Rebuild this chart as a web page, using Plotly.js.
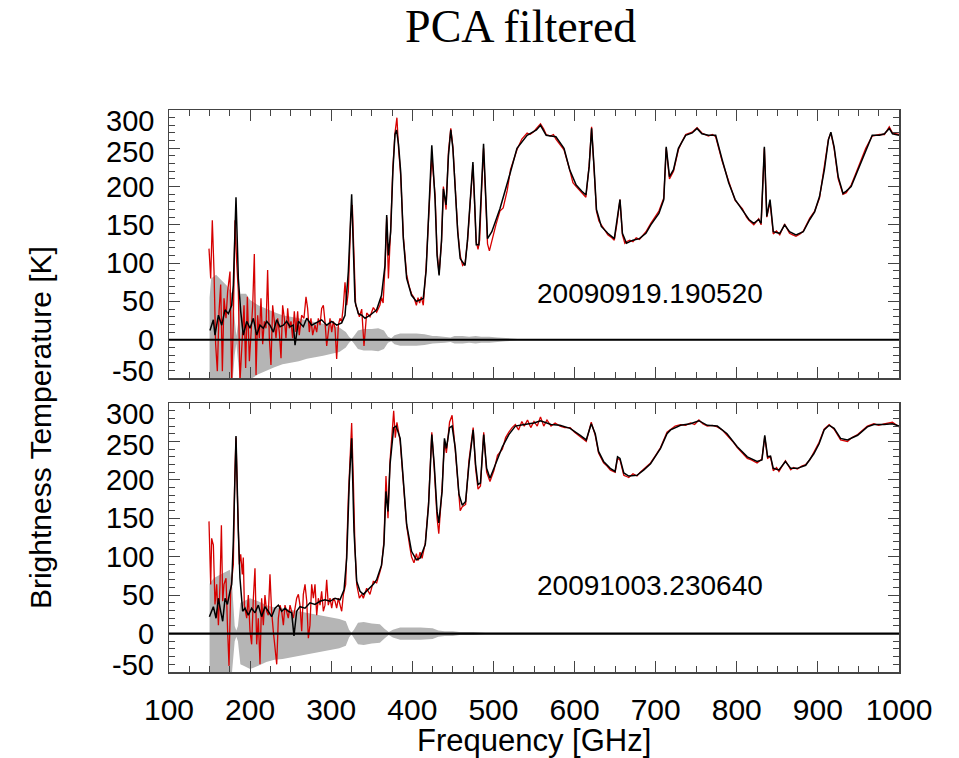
<!DOCTYPE html>
<html><head><meta charset="utf-8">
<script src="https://cdn.plot.ly/plotly-3.0.1.min.js"></script>
<style>body{margin:0;background:#fff}#chart{width:959px;height:758px}</style>
</head><body><div id="chart"></div>
<script>
// ---------- DATA ----------
const titleText = "PCA filtered";
const xTitle = "Frequency [GHz]";
const yTitle = "Brightness Temperature [K]";
const labelTop = "20090919.190520";
const labelBottom = "20091003.230640";
const xTickVals = [100,200,300,400,500,600,700,800,900,1000];
const xTickText = ["100","200","300","400","500","600","700","800","900","1000"];
const yTickVals = [-50,0,50,100,150,200,250,300];
const yTickText = ["-50","0","50","100","150","200","250","300"];

// Top panel: PCA filtered spectrum (black)
const topBlackF = [150.5,154.7,156.7,160.9,165,169,173.2,177.3,179.3,182.6,185.5,188.4,191.6,195.8,199.9,204,208.1,212.2,216.3,220.4,224.5,228.6,232.8,236.9,241,245.1,249.2,253.3,255.4,259.5,265.6,269.8,275.9,282.1,288.2,294.4,300.6,306.7,312.9,317,321.1,325.2,329.3,333.4,337.6,341.7,347.8,356,362,366.3,368.4,370.5,373.3,376,378.6,380.5,383,385.6,388.9,393,399,405,409,413.5,417,420,424,428,430.5,433,436,438.3,441.6,444.5,447.4,450,452.7,456,459,465,468,471.4,474.7,476.8,478.8,482,485.5,487.8,490,492.7,498,508,521,529,541.5,553,558,565,577,587,594,602,609,614,618,621,624,627,633,641,649,652,656,659,664,672,680,688,694,704,710,713,717,722,728,737,745,751,757,765,774,782,790,798,807,815,821,827,830,834,837,841,845,853,859,865,873,882,890,896,902,908,913,916,920,925,931,935,941,951,959,967,976,982,988,992,1000];
const topBlackT = [12,26,6,32,19,39,34,45,71,186,80,37,6,24,15,28,6,19,15,24,19,10,26,17,19,24,17,19,-7,24,17,28,19,22,26,19,24,19,22,32,89,190,50,34,32,28,32,39,58,97,163,110,141,220,268,274,255,220,132,80,58,50,52,54,90,163,254,184,110,84,130,197,176,240,274,250,197,140,106,97,130,176,232,180,124,124,200,256,200,132,141,171,219,250,267,274,280,267,265,250,222,202,194,189,226,276,226,170,148,139,132,152,183,139,126,130,132,139,150,165,183,252,213,222,250,267,270,276,269,267,267,235,205,183,170,157,152,157,152,252,161,183,141,139,150,141,137,141,157,167,187,222,261,271,252,213,191,194,200,226,248,267,267,269,276,269,267];

// Top panel: raw spectrum (red)
const topRedF = [149.3,151.4,153.4,155.5,157.5,159.6,161.7,163.7,165.8,167.8,170.3,172.3,175.2,177.3,179.3,181.4,183.4,185.5,187.5,189.6,192.5,194.5,196.6,199.1,201.1,203.2,205.2,207.3,209.3,211.4,213.4,215.5,217.5,219.6,221.6,223.7,225.7,227.8,229.9,231.9,234,236,238.1,240.1,242.2,244.2,246.3,248.3,250.4,252.4,254.5,256.5,258.6,260.6,263.5,266.4,268.9,270.9,273,275,277.1,280,282.1,284.1,286.2,288.2,290.3,292.3,294.4,296.4,298.5,300.6,302.6,304.7,306.7,308.8,310.8,312.9,315,317,319.1,321.1,324,326,328.1,330.1,332.2,334.7,337.6,340.4,343.7,347.8,351.9,356,360,362,364,366.3,368.4,370.5,373.3,376,378.6,381,383,385.6,388.9,393,396,399,402,405,407,409,411,413.5,417,420,424,428,430.5,433,436,438.3,441.6,444.5,447.4,450,452.7,456,459,462,465,468,471.4,474.7,476.8,478.8,481,483,485.5,487.8,490,492.7,495,498,503,508,512,517,521,525,529,535,541.5,545,550,553,558,562,565,570,574,577,582,587,594,598,602,606,609,614,618,621,624,627,630,633,637,641,645,649,652,656,659,662,664,668,672,676,680,684,688,694,699,704,710,713,717,722,728,732,737,745,751,757,765,770,774,782,790,798,807,812,815,821,827,830,834,837,841,845,849,853,859,865,869,873,878,882,890,896,902,908,913,916,920,925,931,935,941,946,951,959,967,976,982,988,992,1000];
const topRedT = [119,80,156,89,-6,-41,37,72,-41,54,28,63,89,-55,24,156,102,63,-55,-16,45,-37,56,-28,6,45,112,-46,32,2,54,-6,24,15,91,2,-33,45,24,2,28,10,-24,45,28,2,41,15,24,2,37,10,37,6,32,28,56,41,10,28,6,19,10,28,19,41,45,24,-8,10,28,10,24,15,-25,19,28,24,45,75,45,63,158,176,98,45,40,30,40,-8,35,30,42,36,45,55,48,95,160,80,145,225,270,290,250,215,135,85,70,60,55,45,55,48,56,45,95,160,240,190,115,86,128,200,170,245,276,252,195,142,110,97,100,128,180,228,176,128,118,130,198,250,195,125,116,130,150,168,172,195,222,235,248,262,270,268,272,276,282,275,268,266,268,262,255,248,222,205,200,195,192,186,228,278,224,168,155,150,142,137,134,130,150,183,137,126,128,130,128,133,131,136,141,152,160,168,185,250,210,220,248,258,268,271,277,270,266,268,265,233,207,182,171,160,156,150,158,150,250,160,180,138,142,137,151,139,137,135,138,142,159,168,185,224,262,270,250,210,190,192,202,215,228,250,266,268,268,278,270,268];

// Top panel: noise level (grey band, +/-)
const topNoiseF = [150,152,158,165,172,178,181,183,185,188,195,200,210,220,230,240,250,260,270,280,290,300,310,318,322,325,328,333,340,350,358,365,370,374,378,385,395,405,415,425,430,440,447,452,462,470,478,485,495,505,515,530,600,1000];
const topNoiseA = [55,80,85,78,70,60,20,5,20,60,60,52,45,40,36,32,30,28,25,23,21,19,16,10,4,1,5,12,14,14,15,12,4,2,6,8,8,8,7,5,5,4,3,5,5,4,5,4,4,3,2,1,0.5,0.5];

// Bottom panel: PCA filtered spectrum (black)
const botBlackF = [149.8,154.7,158,160.9,163.7,166.2,169.1,172,175.2,177.3,179.3,182.6,185.5,187.5,190.8,193.7,197.8,201.9,206,210.1,214.2,218.3,222.4,226.5,230.7,234.8,238.9,243,247.1,251.2,254.1,257.4,261.5,267.7,273.8,280,286.2,292.3,298.5,304.7,310.8,315.8,319.1,322.3,325.2,328.1,331.4,335.5,339.6,343.7,347.8,351.9,356,362,365,367.5,370,372.5,377,380,385,389,393,399,405,409.5,416,420,424,427,430.5,432.6,436.7,439.6,442,445.9,449,453,457.5,461.6,465.7,469.8,475,478,481,484,488,491.6,495.7,500.6,505,511,519,527,538,550,558,571,582,594.5,607,614.4,620.6,625.5,629.6,635.8,644,650,653,656,660.7,666.8,677,685.5,693.7,706,714,718.4,730.7,743,753.3,763.6,776,788,800.6,813,825,831,834.5,838,841.6,845,852,860,866.5,874.7,885,895,901.5,907.7,913.9,920,928,936.5,949,961,969,981.6,991.9,1000];
const botBlackT = [22,35,20,46,29,16,46,38,55,64,120,257,133,72,29,33,24,33,27,37,22,35,29,22,33,37,29,33,29,27,-3,29,35,33,40,38,42,44,42,46,44,57,98,198,254,133,68,55,51,55,59,64,70,89,116,185,159,220,268,270,254,198,142,107,96,98,116,167,259,220,159,144,185,254,241,268,270,241,181,167,172,220,265,220,194,196,259,215,202,215,228,243,259,270,272,274,277,272,271,267,258,252,273,260,237,224,215,211,230,228,209,205,206,213,221,241,260,265,271,273,277,271,270,260,243,230,224,226,258,230,231,215,213,224,215,215,219,234,247,265,271,267,254,252,258,269,272,272,273,270];

// Bottom panel: raw spectrum (red)
const botRedF = [149.3,151.4,152.6,154.7,156.7,158.8,160.9,162.9,164.6,166.2,167.8,170.3,172.3,174,176,179.3,181,182.6,184.3,186.7,188.4,190.4,191.6,192.9,195.8,197.8,199.9,201.9,204,206,208.1,210.1,212.2,214.2,216.3,218.3,220.4,222.4,224.5,226.5,228.6,230.7,232.8,234.8,236.9,238.9,241,243,245.1,247.1,249.2,251.2,253.3,255.4,257.4,259.5,261.5,263.6,265.6,267.7,269.8,271.8,273.8,275.9,278,280,282.1,284.1,286.2,288.2,290.3,292.3,294.4,296.4,298.5,300.6,302.6,304.7,306.7,308.8,310.8,312.9,315,317.8,321.1,323.2,325.2,327.3,329.3,331.4,334.7,337.6,339.6,343.7,347.8,351.9,356,360,362,365,367.5,370,372.5,375,377,379,381,385,389,393,397,399,402,405,407,409.5,412,416,420,424,427,430.5,432.6,436.7,439.6,442,445.9,449,453,457.5,459,461.6,465.7,469.8,475,478,481,484,488,491.6,495.7,500.6,505,511,515,519,523,527,531,535,538,542,546,550,554,558,562,566,571,576,582,588,594.5,600,607,614.4,620.6,625.5,629.6,635.8,640,644,650,653,656,660.7,663,666.8,672,677,681,685.5,690,693.7,700,706,714,718.4,724,730.7,737,743,748,753.3,758,763.6,770,776,782,788,795,800.6,806,813,818,825,831,834.5,838,841.6,845,849,852,856,860,866.5,870,874.7,880,885,890,895,901.5,907.7,913.9,920,924,928,936.5,942,949,955,961,969,975,981.6,987,991.9,996,1000];
const botRedT = [146,64,124,115,38,64,11,64,141,42,64,72,3,-42,55,90,200,255,180,90,103,77,99,37,20,50,3,-14,46,85,-14,20,-40,46,11,50,29,24,77,29,3,-23,-40,20,37,29,11,37,29,20,37,29,20,33,46,51,37,3,51,64,42,-6,11,64,46,64,24,46,37,55,29,37,70,37,46,33,46,42,33,46,37,29,51,64,177,230,274,198,111,64,46,51,46,59,51,68,66,80,88,120,205,150,225,260,290,255,275,250,195,140,112,100,92,104,95,106,98,118,170,262,215,150,130,190,250,235,275,284,238,176,160,165,168,225,268,215,188,192,262,210,198,212,232,240,255,262,268,272,265,276,270,278,268,276,270,282,270,278,270,274,270,268,268,262,256,250,275,258,235,222,218,213,210,228,226,206,205,203,208,205,210,214,218,222,232,242,262,266,270,272,271,274,272,278,273,270,271,269,265,258,250,242,236,228,226,222,227,256,228,230,212,216,211,218,225,213,216,214,218,220,226,236,249,266,272,266,258,252,250,255,259,265,270,273,271,273,274,275,272,269];

// Bottom panel: noise level (grey band, +/-)
const botNoiseF = [150,155,160,165,170,175,178,181,183,185,188,192,200,210,220,230,240,250,260,270,280,290,300,310,318,322,325,328,333,340,350,360,366,371,376,385,395,410,425,432,440,450,458,465,475,490,1000];
const botNoiseA = [65,72,75,78,80,83,60,10,4,10,40,42,46,42,37,34,33,31,29,27,25,23,21,19,16,5,1,5,14,15,13,12,6,2,5,8,8,8,7,4,3,3,2,2,2,1,0.5];

// ---------- CHART ----------
const RED = "#d60000", BLACK = "#000000", GREY = "#b5b5b5";
function band(F, A, xa, ya) {
  return {x: F.concat(F.slice().reverse()),
          y: A.concat(A.map(v => -v).reverse()),
          xaxis: xa, yaxis: ya, type: "scatter", mode: "lines",
          fill: "toself", fillcolor: GREY, line: {width: 0, color: GREY},
          hoverinfo: "skip", showlegend: false};
}
function line(F, T, c, w, xa, ya) {
  return {x: F, y: T, xaxis: xa, yaxis: ya, type: "scatter", mode: "lines",
          line: {color: c, width: w}, showlegend: false};
}
const traces = [
  band(topNoiseF, topNoiseA, "x", "y"),
  line(topRedF, topRedT, RED, 1.3, "x", "y"),
  line(topBlackF, topBlackT, BLACK, 1.5, "x", "y"),
  band(botNoiseF, botNoiseA, "x2", "y2"),
  line(botRedF, botRedT, RED, 1.3, "x2", "y2"),
  line(botBlackF, botBlackT, BLACK, 1.5, "x2", "y2")
];

const FONT = "Liberation Sans, Arial, sans-serif";
const tickFont = {family: FONT, size: 30, color: "#000"};
const yTickFont = {family: FONT, size: 29, color: "#000"};
const AX = "#444";
function xAxis(anchor, showLabels) {
  return {anchor: anchor, range: [100, 1000], showgrid: false, zeroline: false,
          showline: true, linecolor: AX, linewidth: 1.5, mirror: "allticks",
          ticks: "inside", ticklen: 11, tickwidth: 1.2, tickcolor: AX,
          tickmode: "array", tickvals: xTickVals, ticktext: xTickText,
          showticklabels: showLabels, tickfont: tickFont, ticklabelstandoff: 10,
          minor: {ticks: "inside", ticklen: 6, tickwidth: 1, tickcolor: AX, dtick: 25, tick0: 100, showgrid: false}};
}
function yAxis(anchor, domain) {
  return {anchor: anchor, domain: domain, range: [-50, 300], showgrid: false, zeroline: false,
          showline: true, linecolor: AX, linewidth: 1.5, mirror: "allticks",
          ticks: "inside", ticklen: 11, tickwidth: 1.2, tickcolor: AX,
          tickmode: "array", tickvals: yTickVals, ticktext: yTickText,
          showticklabels: false,
          minor: {ticks: "inside", ticklen: 6, tickwidth: 1, tickcolor: AX, dtick: 10, tick0: 0, showgrid: false}};
}

// y tick labels drawn as text at the axis values; the end labels are nudged inside the frame
function yLabelShift(v) { return v === 300 ? -11 : v === 250 ? -4 : v === -50 ? 7 : 0; }
const yLabels = [];
["y", "y2"].forEach(ya => {
  yTickVals.forEach((v, i) => {
    yLabels.push({text: yTickText[i], xref: "paper", yref: ya, x: -0.0178, y: v,
      xanchor: "right", yanchor: "middle", yshift: yLabelShift(v), showarrow: false,
      font: yTickFont});
  });
});

const layout = {
  width: 959, height: 758,
  margin: {l: 169, r: 60, t: 110, b: 86},
  paper_bgcolor: "#fff", plot_bgcolor: "#fff",
  title: {text: titleText, font: {family: "Liberation Serif, Times New Roman, serif", size: 46, color: "#000"},
          x: 0.543, xanchor: "center", xref: "container", y: 0.966, yanchor: "middle", yref: "container"},
  xaxis: xAxis("y", false),
  yaxis: yAxis("x", [0.5231, 1]),
  xaxis2: xAxis("y2", true),
  yaxis2: yAxis("x2", [0, 0.4786]),
  shapes: [
    {type: "line", xref: "x domain", yref: "y", x0: 0, x1: 1, y0: 0, y1: 0, layer: "above", line: {color: "#000", width: 2.2}},
    {type: "line", xref: "x2 domain", yref: "y2", x0: 0, x1: 1, y0: 0, y1: 0, layer: "above", line: {color: "#000", width: 2.2}}
  ],
  annotations: yLabels.concat([
    {text: labelTop, xref: "x", yref: "y", x: 693, y: 61, showarrow: false,
     font: {family: FONT, size: 28, color: "#000"}},
    {text: labelBottom, xref: "x2", yref: "y2", x: 693, y: 63, showarrow: false,
     font: {family: FONT, size: 28, color: "#000"}},
    {text: yTitle, xref: "paper", yref: "paper", x: -0.1767, y: 0.434, textangle: -90, showarrow: false,
     xanchor: "center", yanchor: "middle",
     font: {family: FONT, size: 30, color: "#000"}},
    {text: xTitle, xref: "paper", yref: "paper", x: 0.5, y: -0.121, showarrow: false,
     xanchor: "center", yanchor: "middle",
     font: {family: FONT, size: 31, color: "#000"}}
  ])
};
Plotly.newPlot("chart", traces, layout, {displayModeBar: false, staticPlot: true});
</script>
</body></html>
